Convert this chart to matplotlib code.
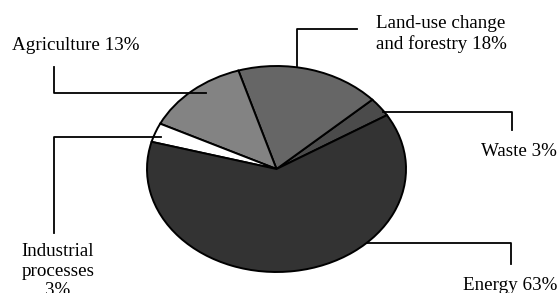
import matplotlib
matplotlib.use("Agg")
import matplotlib.pyplot as plt
from matplotlib.lines import Line2D

categories = ["Waste", "Land-use change and forestry", "Agriculture",
              "Industrial processes", "Energy"]
values = [3, 18, 13, 3, 63]
colors = ["#4b4b4b", "#666666", "#838383", "#ffffff", "#333333"]
labels = ["Waste 3%", "Land-use change\nand forestry 18%", "Agriculture 13%",
          "Industrial\nprocesses\n3%", "Energy 63%"]

W, H = 560, 293
fig = plt.figure(figsize=(W / 100, H / 100), dpi=100)

# pie axes, stretched to an ellipse
x0, x1, y0, y1 = 147, 406, 66, 272
pax = fig.add_axes([x0 / W, 1 - y1 / H, (x1 - x0) / W, (y1 - y0) / H])
pax.pie(values, colors=colors, startangle=31.5, counterclock=True,
        wedgeprops=dict(edgecolor="black", linewidth=1.4))
pax.set_aspect("auto")
pax.set_xlim(-1, 1)
pax.set_ylim(-1, 1)
pax.axis("off")

# overlay axes in pixel coordinates for labels and leader lines
ov = fig.add_axes([0, 0, 1, 1], zorder=5)
ov.set_xlim(0, W)
ov.set_ylim(H, 0)
ov.axis("off")
ov.patch.set_alpha(0)

font = dict(family="Liberation Serif", fontsize=13.7, color="black")

leaders = [
    ([383, 512, 512], [112, 112, 130]),          # Waste
    ([297, 297, 357], [66, 29, 29]),             # Land-use
    ([54, 54, 206], [67, 93, 93]),               # Agriculture
    ([161, 54, 54], [137, 137, 233]),            # Industrial
    ([367, 511, 511], [243, 243, 264]),          # Energy
]
for xs, ys in leaders:
    ov.add_line(Line2D(xs, ys, color="black", linewidth=1.3))

label_pos = [
    (557, 151, "right", "center"),
    (441, 34, "center", "center"),
    (12, 45, "left", "center"),
    (58, 271, "center", "center"),
    (557, 285, "right", "center"),
]
for lab, (x, y, ha, va) in zip(labels, label_pos):
    ov.text(x, y, lab, ha=ha, va=va, multialignment="center",
            linespacing=1.18, **font)

fig.savefig("out.png", dpi=100)
